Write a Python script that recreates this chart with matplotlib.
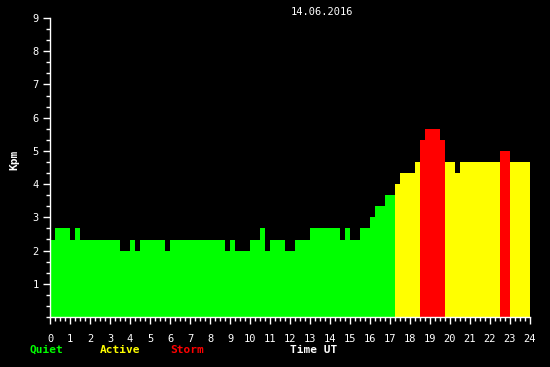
import matplotlib
matplotlib.use('Agg')
import matplotlib.pyplot as plt
import numpy as np

# Kpm values every 15 minutes, 14.06.2016
hours = [i * 0.25 for i in range(96)]
kpm = ([2.33] + [2.67] * 3 + [2.33] + [2.67] + [2.33] * 8 + [2.0] * 2 + [2.33] + [2.0]
       + [2.33] * 5 + [2.0] + [2.33] * 11 + [2.0] + [2.33] + [2.0] * 3 + [2.33] * 2
       + [2.67] + [2.0] + [2.33] * 3 + [2.0] * 2 + [2.33] * 3 + [2.67] * 6 + [2.33]
       + [2.67] + [2.33] * 2 + [2.67] * 2 + [3.0] + [3.33] * 2 + [3.67] * 2 + [4.0]
       + [4.33] * 3 + [4.67] + [5.33] + [5.67] * 3 + [5.33] + [4.67] * 2 + [4.33]
       + [4.67] * 8 + [5.0] * 2 + [4.67] * 4)
hour_labels = [str(h) for h in range(25)]
kp_labels = [str(k) for k in range(1, 10)]

def kp_color(v):
    if v < 4:
        return '#00ff00'
    if v < 5:
        return '#ffff00'
    return '#ff0000'

colors = [kp_color(v) for v in kpm]

fig = plt.figure(figsize=(5.5, 3.67), dpi=100, facecolor='black')
ax = fig.add_axes([50 / 550, 1 - 317 / 367, 480 / 550, 299 / 367], facecolor='black')

ax.bar(hours, kpm, width=0.25, align='edge', color=colors, linewidth=0, antialiased=False)

ax.set_xlim(0, 24)
ax.set_ylim(0, 9)
ax.set_xticks(range(25))
ax.set_xticklabels(hour_labels)
ax.set_xticks(np.arange(0, 24.01, 0.25), minor=True)
ax.set_yticks(range(1, 10))
ax.set_yticklabels(kp_labels)
ax.set_yticks(np.arange(0, 9.01, 1 / 3), minor=True)

for s in ['top', 'right']:
    ax.spines[s].set_visible(False)
for s in ['left', 'bottom']:
    ax.spines[s].set_color('white')
    ax.spines[s].set_linewidth(1)

ax.tick_params(which='major', length=5, color='white', labelcolor='white',
               labelsize=7.5, width=1)
ax.tick_params(which='minor', length=3, color='white', width=1)
ax.tick_params(axis='x', which='major', pad=7)
ax.tick_params(axis='y', which='major', pad=3)
for lab in ax.get_xticklabels() + ax.get_yticklabels():
    lab.set_family('DejaVu Sans Mono')

fig.text(322 / 550, 1 - 12 / 367, '14.06.2016', color='white', fontsize=7.5,
         family='DejaVu Sans Mono', ha='center', va='center')
fig.text(14 / 550, 1 - 160 / 367, 'Kpm', color='white', fontsize=8, fontweight='bold',
         family='DejaVu Sans Mono', rotation=90, ha='center', va='center')

legend_y = 1 - 350 / 367
fig.text(30 / 550, legend_y, 'Quiet', color='#00ff00', fontsize=8, fontweight='bold',
         family='DejaVu Sans Mono', va='center')
fig.text(100 / 550, legend_y, 'Active', color='#ffff00', fontsize=8, fontweight='bold',
         family='DejaVu Sans Mono', va='center')
fig.text(170 / 550, legend_y, 'Storm', color='#ff0000', fontsize=8, fontweight='bold',
         family='DejaVu Sans Mono', va='center')
fig.text(290 / 550, legend_y, 'Time UT', color='white', fontsize=8, fontweight='bold',
         family='DejaVu Sans Mono', va='center')

fig.savefig('out.png', dpi=100, facecolor='black')
